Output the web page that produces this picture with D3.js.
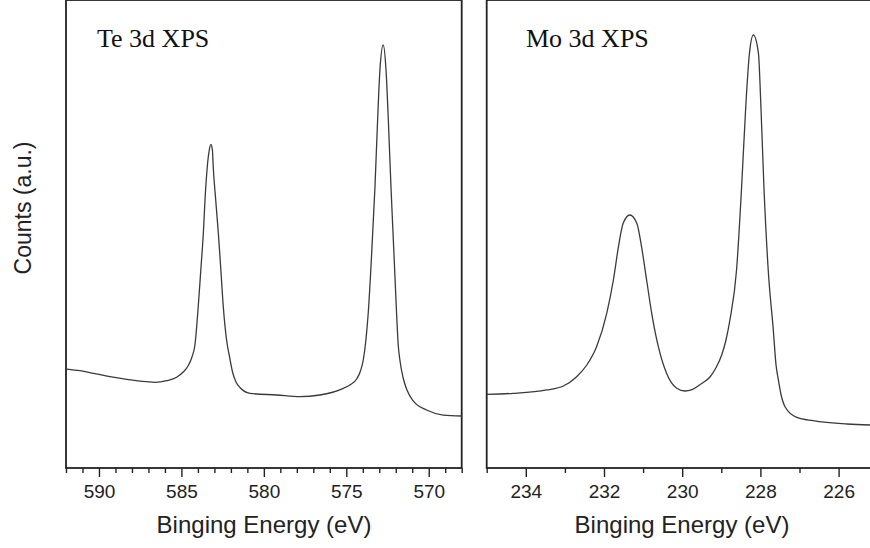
<!DOCTYPE html>
<html>
<head>
<meta charset="utf-8">
<script src="https://cdn.jsdelivr.net/npm/d3@7"></script>
<style>
  html, body { margin: 0; padding: 0; background: #fff; }
  svg { display: block; }
</style>
</head>
<body>
<div id="chart"></div>
<script>
// Te 3d spectrum (binding energy in eV, counts in a.u.)
const teEnergy = [591.96, 591.15, 590.34, 589.33, 588.32, 587.11, 586.60, 585.89, 585.29, 584.89,
  584.60, 584.36, 584.18, 583.98, 583.81, 583.67, 583.57, 583.43, 583.31, 583.21,
  583.12, 583.07, 582.92, 582.76, 582.62, 582.46, 582.26, 582.08, 581.90, 581.69,
  581.45, 580.84, 579.22, 577.81, 576.60, 575.18, 574.78, 574.37, 574.14, 573.97,
  573.81, 573.67, 573.46, 573.26, 573.10, 572.96, 572.76, 572.59, 572.45, 572.29,
  572.11, 571.95, 571.85, 571.75, 571.55, 571.32, 570.94, 570.13, 569.12, 568.00];
const teCounts = [21.15, 20.79, 20.24, 19.51, 18.95, 18.44, 18.31, 18.65, 19.38, 20.51,
  21.79, 23.72, 26.28, 34.47, 43.01, 50.15, 57.26, 64.38, 67.95, 69.17,
  67.95, 64.38, 57.26, 50.15, 43.01, 34.47, 27.35, 23.72, 20.51, 18.38,
  17.20, 15.96, 15.60, 15.24, 15.60, 17.03, 17.74, 19.02, 20.73, 23.08,
  27.35, 33.06, 45.88, 60.11, 74.36, 85.04, 90.38, 85.04, 74.36, 60.11,
  45.88, 33.06, 26.28, 23.08, 19.23, 16.67, 14.32, 12.39, 11.32, 11.11];

// Mo 3d spectrum
const moEnergy = [235.00, 234.32, 233.47, 233.04, 232.70, 232.44, 232.19, 231.93, 231.76, 231.63,
  231.51, 231.34, 231.16, 231.04, 230.91, 230.78, 230.61, 230.40, 230.14, 229.93,
  229.75, 229.54, 229.29, 229.14, 228.99, 228.88, 228.78, 228.61, 228.48, 228.37,
  228.28, 228.18, 228.05, 227.99, 227.91, 227.80, 227.67, 227.60, 227.54, 227.47,
  227.37, 227.07, 226.65, 225.79, 225.20, 225.00];
const moCounts = [15.75, 15.96, 16.67, 17.52, 19.51, 22.01, 25.92, 33.06, 40.17, 47.29,
  52.29, 54.06, 52.29, 47.29, 40.17, 33.06, 25.92, 20.24, 17.03, 16.45,
  16.75, 17.85, 19.44, 21.37, 24.15, 27.35, 31.62, 42.31, 60.11, 77.93,
  88.61, 92.52, 88.61, 77.93, 60.11, 42.31, 29.49, 22.01, 18.80, 15.60,
  13.10, 10.83, 10.11, 9.40, 9.19, 9.15];

const teTicks = [590, 585, 580, 575, 570];
const moTicks = [234, 232, 230, 228, 226];

const panels = [
  { title: "Te 3d XPS", energy: teEnergy, counts: teCounts, domain: [592, 568],
    majors: teTicks, minorStep: 1, left: 66, right: 461.7, titleX: 97, labelX: 264 },
  { title: "Mo 3d XPS", energy: moEnergy, counts: moCounts, domain: [235, 225],
    majors: moTicks, minorStep: 1, left: 486.7, right: 877.7, titleX: 526, labelX: 682 }
];

const width = 870;
const height = 548;
const plotTop = 0;
const plotBottom = 468;

const svg = d3.select("#chart").append("svg")
  .attr("width", width)
  .attr("height", height);

const y = d3.scaleLinear().domain([0, 100]).range([plotBottom, plotTop]);

panels.forEach(p => {
  const x = d3.scaleLinear().domain(p.domain).range([p.left, p.right]);
  const data = p.energy.map((e, i) => ({ e: e, c: p.counts[i] }));

  // frame
  svg.append("rect")
    .attr("x", p.left)
    .attr("y", plotTop)
    .attr("width", p.right - p.left)
    .attr("height", plotBottom - plotTop)
    .attr("fill", "none")
    .attr("stroke", "#222")
    .attr("stroke-width", 1.8);

  // minor ticks
  const lo = Math.ceil(Math.min(...p.domain));
  const hi = Math.floor(Math.max(...p.domain));
  const minors = d3.range(lo, hi + 1, p.minorStep).filter(v => !p.majors.includes(v));

  svg.append("g")
    .attr("transform", `translate(0,${plotBottom})`)
    .call(d3.axisBottom(x).tickValues(minors).tickSize(5).tickFormat(""))
    .call(g => g.select(".domain").remove())
    .call(g => g.selectAll("line").attr("stroke", "#222").attr("stroke-width", 1.4));

  const gx = svg.append("g")
    .attr("transform", `translate(0,${plotBottom})`)
    .call(d3.axisBottom(x).tickValues(p.majors).tickSize(9).tickPadding(8).tickFormat(d3.format("d")));
  gx.select(".domain").remove();
  gx.selectAll("line").attr("stroke", "#222").attr("stroke-width", 1.4);
  gx.selectAll("text")
    .attr("fill", "#222")
    .style("font-family", "'Liberation Sans', Arial, sans-serif")
    .style("font-size", "19px");

  // spectrum
  svg.append("path")
    .datum(data)
    .attr("fill", "none")
    .attr("stroke", "#3a3a3a")
    .attr("stroke-width", 1.3)
    .attr("d", d3.line()
      .x(d => x(d.e))
      .y(d => y(d.c))
      .curve(d3.curveMonotoneX));

  svg.append("text")
    .attr("x", p.titleX)
    .attr("y", 47)
    .attr("fill", "#111")
    .style("font-family", "'Liberation Serif', 'Times New Roman', serif")
    .style("font-size", "26px")
    .text(p.title);

  svg.append("text")
    .attr("x", p.labelX)
    .attr("y", 533)
    .attr("text-anchor", "middle")
    .attr("fill", "#222")
    .style("font-family", "'Liberation Sans', Arial, sans-serif")
    .style("font-size", "24px")
    .text("Binging Energy (eV)");
});

svg.append("text")
  .attr("transform", "translate(31,208) rotate(-90)")
  .attr("text-anchor", "middle")
  .attr("fill", "#222")
  .style("font-family", "'Liberation Sans', Arial, sans-serif")
  .style("font-size", "23px")
  .text("Counts (a.u.)");
</script>
</body>
</html>
